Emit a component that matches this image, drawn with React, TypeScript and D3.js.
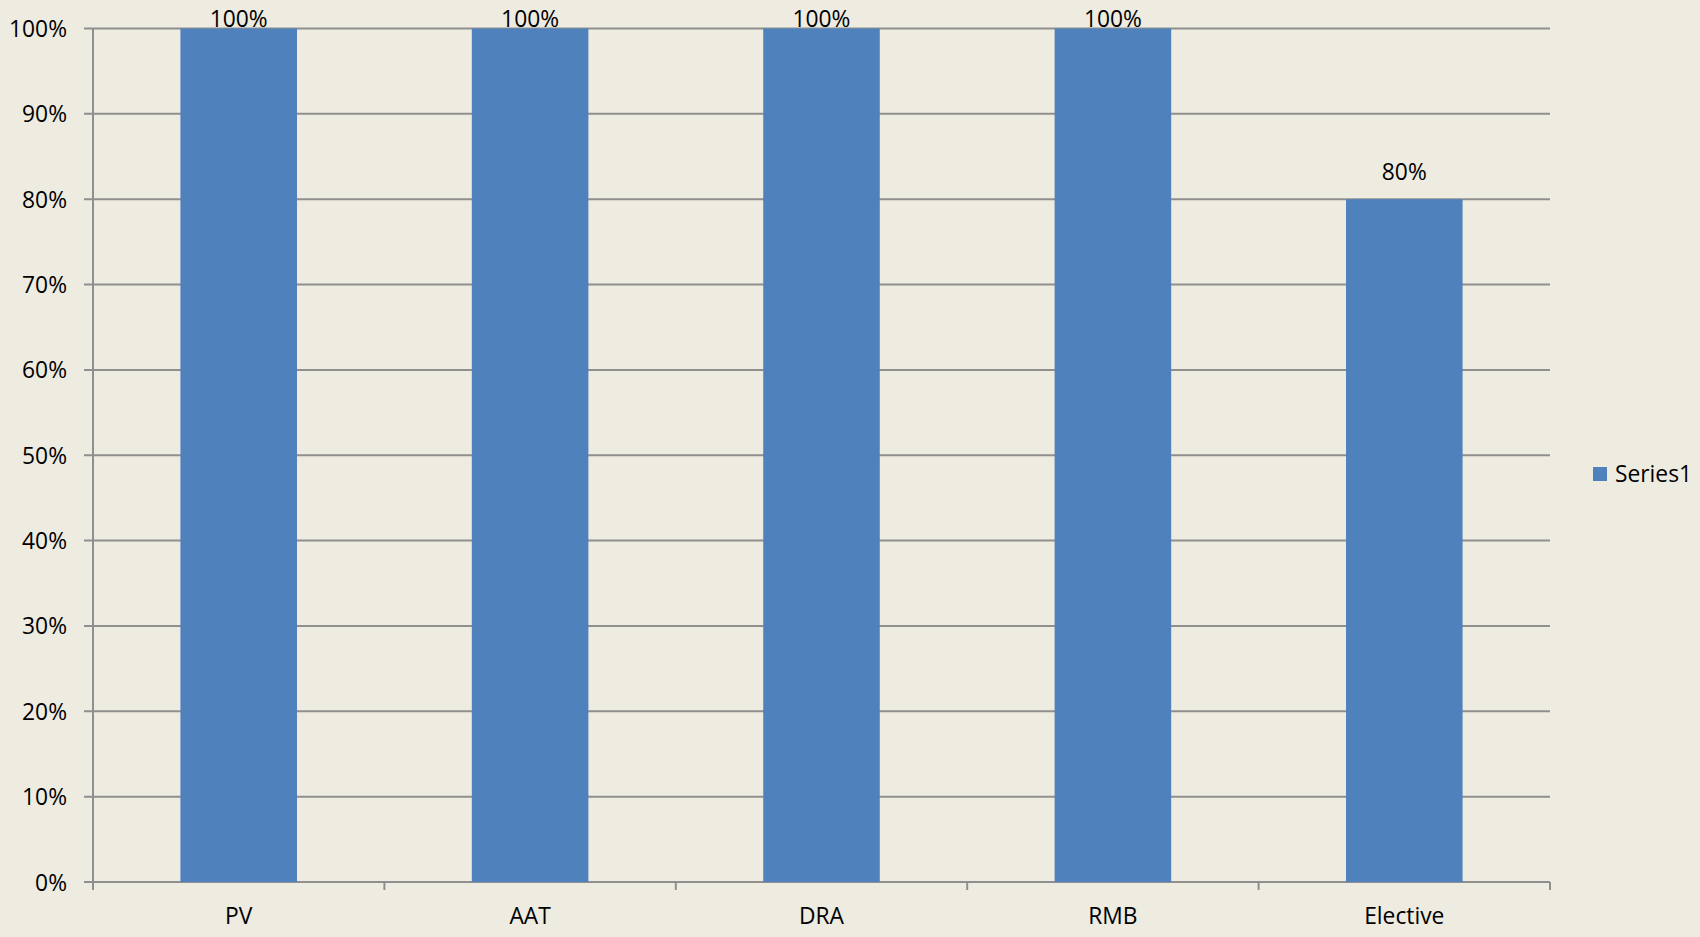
import React from "react";
import * as d3 from "d3";

const categories = ["PV", "AAT", "DRA", "RMB", "Elective"];
const values = [1.0, 1.0, 1.0, 1.0, 0.8];
const yTicks = [0, 0.1, 0.2, 0.3, 0.4, 0.5, 0.6, 0.7, 0.8, 0.9, 1.0];
const seriesName = "Series1";

const W = 1700;
const H = 937;
const margin = { left: 93, right: 150, top: 28.5, bottom: 55 };
const FONT = "'Open Sans', sans-serif";
const FS = 22.8;
const BG = "#EEEBE0";
const GRID = "#8F8F8F";
const BAR = "#4F81BD";

export default function App() {
  const x = d3
    .scaleBand<string>()
    .domain(categories)
    .range([margin.left, W - margin.right])
    .paddingInner(0.6)
    .paddingOuter(0.3);
  const xCat = d3
    .scaleBand<string>()
    .domain(categories)
    .range([margin.left, W - margin.right]);
  const y = d3
    .scaleLinear()
    .domain([0, 1])
    .range([H - margin.bottom, margin.top]);
  const fmt = d3.format(".0%");
  const x0 = margin.left;
  const x1 = W - margin.right;
  const yBase = y(0);

  return (
    <svg
      width={W}
      height={H}
      style={{ position: "absolute", left: 0, top: 0, display: "block" }}
      fontFamily={FONT}
    >
      <rect x={0} y={0} width={W} height={H} fill={BG} />
      {yTicks.map((t) => (
        <g key={t}>
          <line x1={x0 - 9} x2={x1} y1={y(t)} y2={y(t)} stroke={GRID} strokeWidth={2} />
          <text
            x={x0 - 26}
            y={y(t)}
            textAnchor="end"
            dominantBaseline="central"
            fontSize={FS}
            fill="#000"
          >
            {fmt(t)}
          </text>
        </g>
      ))}
      <line x1={x0} x2={x0} y1={margin.top} y2={yBase + 8} stroke={GRID} strokeWidth={2} />
      {categories.map((c) => (
        <line
          key={"t" + c}
          x1={(xCat(c) as number) + xCat.bandwidth()}
          x2={(xCat(c) as number) + xCat.bandwidth()}
          y1={yBase}
          y2={yBase + 8}
          stroke={GRID}
          strokeWidth={2}
        />
      ))}
      {categories.map((c, i) => (
        <rect
          key={"b" + c}
          x={x(c)}
          y={y(values[i])}
          width={x.bandwidth()}
          height={yBase - y(values[i])}
          fill={BAR}
        />
      ))}
      {categories.map((c, i) => (
        <text
          key={"l" + c}
          x={(x(c) as number) + x.bandwidth() / 2}
          y={Math.max(y(values[i]) - 19, 27)}
          textAnchor="middle"
          fontSize={FS}
          fill="#000"
        >
          {fmt(values[i])}
        </text>
      ))}
      {categories.map((c) => (
        <text
          key={"c" + c}
          x={(x(c) as number) + x.bandwidth() / 2}
          y={924}
          textAnchor="middle"
          fontSize={FS}
          fill="#000"
        >
          {c}
        </text>
      ))}
      <rect x={1593} y={467} width={14} height={14} fill={BAR} />
      <text x={1615} y={482} fontSize={FS} fill="#000">
        {seriesName}
      </text>
    </svg>
  );
}
